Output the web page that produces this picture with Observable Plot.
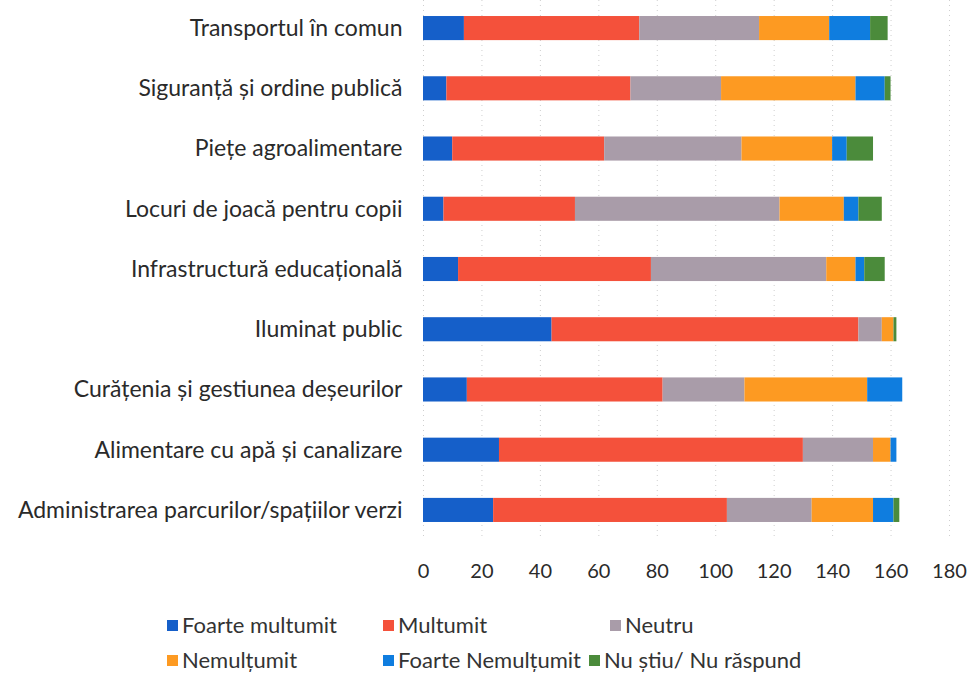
<!DOCTYPE html>
<html>
<head>
<meta charset="utf-8">
<script src="https://cdn.jsdelivr.net/npm/d3@7"></script>
<script src="https://cdn.jsdelivr.net/npm/@observablehq/plot@0.6"></script>
<style>
  html, body { margin: 0; padding: 0; background: #fff; }
  body { width: 969px; height: 678px; position: relative; overflow: hidden; font-family: Lato, "Open Sans", sans-serif; }
  #chart { position: absolute; left: 0; top: 0; }
  .leg { position: absolute; font-size: 22px; color: #333; white-space: nowrap; line-height: 24px; }
  .sw { display: inline-block; width: 11px; height: 11px; margin-right: 4px; vertical-align: 2px; }
</style>
</head>
<body>
<div id="chart"></div>
<div id="legend"></div>
<script>
const categories = [
  "Transportul în comun",
  "Siguranță și ordine publică",
  "Piețe agroalimentare",
  "Locuri de joacă pentru copii",
  "Infrastructură educațională",
  "Iluminat public",
  "Curățenia și gestiunea deșeurilor",
  "Alimentare cu apă și canalizare",
  "Administrarea parcurilor/spațiilor verzi"
];
const seriesNames = ["Foarte multumit", "Multumit", "Neutru", "Nemulțumit", "Foarte Nemulțumit", "Nu știu/ Nu răspund"];
const foarteMultumit   = [14,  8, 10,  7, 12,  44, 15,  26, 24];
const multumit         = [60, 63, 52, 45, 66, 105, 67, 104, 80];
const neutru           = [41, 31, 47, 70, 60,   8, 28,  24, 29];
const nemultumit       = [24, 46, 31, 22, 10,   4, 42,   6, 21];
const foarteNemultumit = [14, 10,  5,  5,  3,   0, 12,   2,  7];
const nuStiu           = [ 6,  2,  9,  8,  7,   1,  0,   0,  2];
const xTicks = [0, 20, 40, 60, 80, 100, 120, 140, 160, 180];
const colors = ["#155fc9", "#f4513b", "#a99ca9", "#fd9a22", "#0f7ddf", "#4b8b3b"];

const seriesValues = [foarteMultumit, multumit, neutru, nemultumit, foarteNemultumit, nuStiu];
const data = [];
categories.forEach((c, i) => {
  seriesNames.forEach((s, j) => data.push({category: c, series: s, value: seriesValues[j][i]}));
});

const chart = Plot.plot({
  width: 969,
  height: 598,
  marginLeft: 423,
  marginRight: 20,
  marginTop: 0,
  marginBottom: 60,
  style: {fontFamily: "Lato, 'Open Sans', sans-serif", fontSize: "20px", color: "#2a2a2a"},
  x: {domain: [0, 180], ticks: xTicks, label: null},
  y: {domain: categories, paddingInner: 0.6, paddingOuter: 0.266, round: false, label: null},
  color: {domain: seriesNames, range: colors},
  marks: [
    Plot.ruleX(xTicks, {stroke: "#cfcfcf", strokeDasharray: "1,4"}),
    Plot.barX(data, Plot.stackX({x: "value", y: "category", fill: "series", order: seriesNames})),
    Plot.axisX({ticks: xTicks, tickSize: 0, tickPadding: 25, fontSize: 20, label: null}),
    Plot.axisY({tickSize: 0, tickPadding: 21, fontSize: 23, label: null})
  ]
});
document.getElementById("chart").appendChild(chart);

const legendPos = [[167, 613], [383, 613], [610, 613], [167, 648], [383, 648], [589, 648]];
const legend = document.getElementById("legend");
seriesNames.forEach((s, j) => {
  const d = document.createElement("div");
  d.className = "leg";
  d.style.left = legendPos[j][0] + "px";
  d.style.top = legendPos[j][1] + "px";
  d.innerHTML = `<span class="sw" style="background:${colors[j]}"></span>${s}`;
  legend.appendChild(d);
});
</script>
</body>
</html>
